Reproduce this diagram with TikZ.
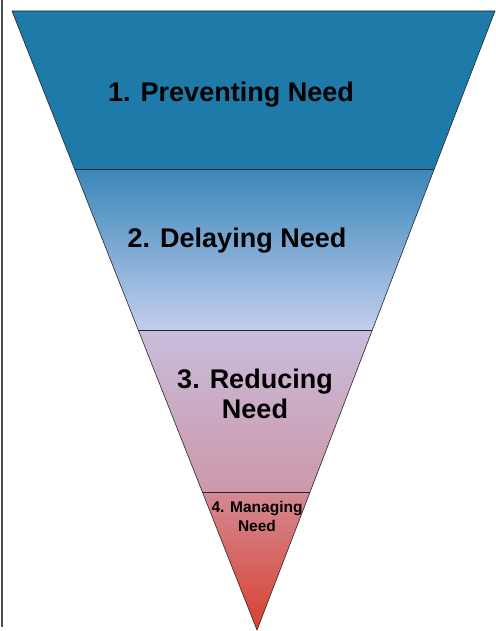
\documentclass[tikz,border=0pt]{standalone}
\usepackage{fontspec}
\setmainfont{Liberation Sans}
\usepackage{tikz}
\usetikzlibrary{calc}

\begin{document}
\begin{tikzpicture}[x=1pt,y=-1pt,%one unit is one pixel here
  band/.style={draw=black!85, semithick},
  lbl/.style={font=\bfseries\fontsize{27}{30}\selectfont, align=center, text=black},
  small/.style={font=\bfseries\fontsize{15.5}{19}\selectfont, align=center, text=black}]
\useasboundingbox (0,0) rectangle (495,631);
\definecolor{blueA}{HTML}{1E7AA9}
\definecolor{blueB}{HTML}{3A87B8}
\definecolor{lilac}{HTML}{C2CDEF}
\definecolor{mauve}{HTML}{C8BDDD}
\definecolor{rose}{HTML}{CE97A9}
\definecolor{roseB}{HTML}{D48A95}
\definecolor{redA}{HTML}{D8402E}
\coordinate (tl) at (12,11);
\coordinate (tr) at (495,11);
\coordinate (ap) at (257,630);
\coordinate (l1) at ($(tl)!0.2553!(ap)$); \coordinate (r1) at ($(tr)!0.2553!(ap)$);
\coordinate (l2) at ($(tl)!0.5154!(ap)$); \coordinate (r2) at ($(tr)!0.5154!(ap)$);
\coordinate (l3) at ($(tl)!0.7771!(ap)$); \coordinate (r3) at ($(tr)!0.7771!(ap)$);
\fill [blueA] (tl)--(tr)--(r1)--(l1)--cycle;
\shade [top color=blueB, bottom color=lilac] (l1)--(r1)--(r2)--(l2)--cycle;
\shade [top color=mauve, bottom color=rose] (l2)--(r2)--(r3)--(l3)--cycle;
\shade [top color=roseB, bottom color=redA] (l3)--(r3)--(ap)--cycle;
\draw [band] (tl)--(tr)--(ap)--cycle;
\draw [band] (l1)--(r1);
\draw [band] (l2)--(r2);
\draw [band] (l3)--(r3);
\draw [black!70, line width=1.5pt] (2,0)--(2,627);
\node [lbl] (prev) at (231,95) {1. Preventing Need};
\node [lbl] (dela) at (237,241) {2. Delaying Need};
\node [lbl] (redu) at (255,394) {3. Reducing\\Need};
\node [small] (mana) at (257,516) {4. Managing\\Need};
\end{tikzpicture}
\end{document}
